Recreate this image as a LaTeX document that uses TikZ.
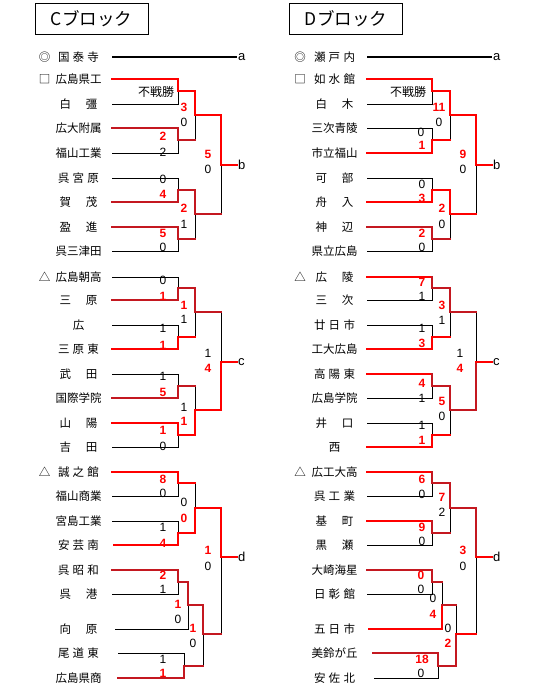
\documentclass[tikz,border=0pt]{standalone}
\usepackage{fontspec}
\setmainfont{Liberation Sans}
\newfontfamily\jp{Noto Sans CJK JP}
\definecolor{hired}{RGB}{255,0,0}
\definecolor{dkred}{RGB}{196,24,32}
\newcommand{\ntwo}[2]{\makebox[38pt]{#1\hfill#2}}
\newcommand{\nthree}[3]{\makebox[41pt]{#1\hfill#2\hfill#3}}
\tikzset{
  tname/.style={inner sep=0pt, font=\jp\fontsize{11.5}{12}\selectfont},
  seedmk/.style={inner sep=0pt, font=\jp\fontsize{11.5}{12}\selectfont},
  titlebox/.style={draw, line width=0.9pt, minimum width=113pt, minimum height=31pt, font=\jp\fontsize{17.5}{18}\selectfont},
  bye/.style={inner sep=0pt, font=\jp\fontsize{12}{12}\selectfont},
  lose/.style={black, line width=0.9pt},
  win/.style={hired, line width=2.2pt, line cap=rect},
  wind/.style={dkred, line width=2.2pt, line cap=rect},
  aline/.style={black, line width=2pt},
  lbl/.style={anchor=west, inner sep=1pt, font=\fontsize{13}{13}\selectfont},
  sc/.style={inner sep=0pt, font=\fontsize{12}{12}\selectfont},
  wsc/.style={inner sep=0pt, text=hired, font=\bfseries\fontsize{12}{12}\selectfont}
}
\begin{document}
\begin{tikzpicture}[x=1pt,y=-1pt]
\useasboundingbox (0,0) rectangle (540,699);

% block titles
\node[titlebox] (tC) at (91.5,18.5) {Cブロック};
\node[titlebox] (tD) at (346,18.5) {Dブロック};

% team names, C block
\foreach \y/\xs/\t [count=\i from 0] in {
  57/112/\nthree{国}{泰}{寺}, 79/112/広島県工, 104/112/\ntwo{白}{彊},
  128/112/広大附属, 153/112/福山工業, 178/112/\nthree{呉}{宮}{原},
  202/112/\ntwo{賀}{茂}, 227/112/\ntwo{盈}{進}, 251/112/呉三津田,
  277/112/広島朝高, 300/112/\ntwo{三}{原}, 325/112/広,
  349/112/\nthree{三}{原}{東}, 374/112/\ntwo{武}{田}, 398/112/国際学院,
  423/112/\ntwo{山}{陽}, 447/112/\ntwo{吉}{田}, 472/112/\nthree{誠}{之}{館},
  496/112/福山商業, 521/112/宮島工業, 545/114/\nthree{安}{芸}{南},
  570/112/\nthree{呉}{昭}{和}, 594/112/\ntwo{呉}{港}, 629/115/\ntwo{向}{原},
  653/118/\nthree{尾}{道}{東}, 678/118/広島県商}
{
  \node[tname] (L\i) at (78.5,\y) {\t};
  \coordinate (Ls\i) at (\xs,\y);
}

% team names, D block
\foreach \y/\xs/\t [count=\i from 0] in {
  57/367/\nthree{瀬}{戸}{内}, 79/367/\nthree{如}{水}{館}, 104/367/\ntwo{白}{木},
  128/367/三次青陵, 153/367/市立福山, 178/367/\ntwo{可}{部},
  202/367/\ntwo{舟}{入}, 227/367/\ntwo{神}{辺}, 251/367/県立広島,
  277/367/\ntwo{広}{陵}, 300/367/\ntwo{三}{次}, 325/367/\nthree{廿}{日}{市},
  349/367/工大広島, 374/367/\nthree{高}{陽}{東}, 398/367/広島学院,
  423/367/\ntwo{井}{口}, 447/367/西, 472/367/広工大高,
  496/367/\nthree{呉}{工}{業}, 521/367/\ntwo{基}{町}, 545/367/\ntwo{黒}{瀬},
  570/367/大崎海星, 594/367/\nthree{日}{彰}{館}, 629/369/\nthree{五}{日}{市},
  653/373/美鈴が丘, 678/374/\nthree{安}{佐}{北}}
{
  \node[tname] (R\i) at (334.5,\y) {\t};
  \coordinate (Rs\i) at (\xs,\y);
}

% seed marks
\node[seedmk] (mk1) at (44.5,57) {◎};
\node[seedmk] (mk2) at (44.5,79) {□};
\node[seedmk] (mk3) at (44.5,277) {△};
\node[seedmk] (mk4) at (44.5,472) {△};
\node[seedmk] (mk5) at (300,57) {◎};
\node[seedmk] (mk6) at (300,79) {□};
\node[seedmk] (mk7) at (300,277) {△};
\node[seedmk] (mk8) at (300,472) {△};

% match points
\foreach \n/\x/\y in {Lb1/178/91, Lb2/178/140, Lb3/178/190, Lb4/178/239,
  Lb5/195/115, Lb6/195/214, Lb7/221/165,
  Lc1/178/288, Lc2/178/337, Lc3/178/386, Lc4/178/435,
  Lc5/195/312, Lc6/195/410, Lc7/221/362,
  Ld1/178/483, Ld2/178/533, Ld3/178/582, Ld4/184/666,
  Ld5/195/508, Ld6/188/605, Ld7/203/634, Ld8/221/557,
  Rb1/432/91, Rb2/432/140, Rb3/432/190, Rb4/432/239,
  Rb5/450/115, Rb6/450/214, Rb7/476/165,
  Rc1/432/288, Rc2/432/337, Rc3/432/386, Rc4/432/435,
  Rc5/450/312, Rc6/450/410, Rc7/476/362,
  Rd1/432/483, Rd2/432/533, Rd3/432/582, Rd4/438/666,
  Rd5/450/508, Rd6/442/605, Rd7/456/634, Rd8/476/557}
  \coordinate (\n) at (\x,\y);

% exits
\node[lbl] (la) at (237,57) {a};
\node[lbl] (lb) at (237,165) {b};
\node[lbl] (lc) at (237,362) {c};
\node[lbl] (ld) at (237,557) {d};
\node[lbl] (ra) at (492,57) {a};
\node[lbl] (rb) at (492,165) {b};
\node[lbl] (rc) at (492,362) {c};
\node[lbl] (rd) at (492,557) {d};

\node[bye] (byeL) at (156,92) {不戦勝};
\node[bye] (byeR) at (408,92) {不戦勝};

% C block, b
\draw[aline] (Ls0) -- (la.west);
\draw[lose] (Ls2) -| (Lb1);
\draw[lose] (Ls4) -| (Lb2);
\draw[lose] (Ls5) -| (Lb3);
\draw[lose] (Ls8) -| (Lb4);
\draw[lose] (Lb2 -| Lb5) -- (Lb5);
\draw[lose] (Lb4 -| Lb6) -- (Lb6);
\draw[lose] (Lb6 -| Lb7) -- (Lb7);
\draw[win] (Ls1) -| (Lb1) -| (Lb5) -| (Lb7) -- (lb.west);
\draw[wind] (Ls3) -| (Lb2) -- (Lb2 -| Lb5);
\draw[wind] (Ls6) -| (Lb3) -| (Lb6) -- (Lb6 -| Lb7);
\draw[wind] (Ls7) -| (Lb4) -- (Lb4 -| Lb6);

% C block, c
\draw[lose] (Ls9) -| (Lc1);
\draw[lose] (Ls11) -| (Lc2);
\draw[lose] (Ls13) -| (Lc3);
\draw[lose] (Ls16) -| (Lc4);
\draw[lose] (Lc2 -| Lc5) -- (Lc5);
\draw[lose] (Lc3 -| Lc6) -- (Lc6);
\draw[lose] (Lc5 -| Lc7) -- (Lc7);
\draw[wind] (Ls10) -| (Lc1) -| (Lc5) -- (Lc5 -| Lc7);
\draw[win] (Ls12) -| (Lc2) -- (Lc2 -| Lc5);
\draw[wind] (Ls14) -| (Lc3) -- (Lc3 -| Lc6);
\draw[win] (Ls15) -| (Lc4) -| (Lc6) -| (Lc7) -- (lc.west);

% C block, d
\draw[lose] (Ls18) -| (Ld1);
\draw[lose] (Ls19) -| (Ld2);
\draw[lose] (Ls22) -| (Ld3);
\draw[lose] (Ls23) -| (Ld6);
\draw[lose] (Ls24) -| (Ld4);
\draw[lose] (Ld1 -| Ld5) -- (Ld5);
\draw[lose] (Ld4 -| Ld7) -- (Ld7);
\draw[lose] (Ld7 -| Ld8) -- (Ld8);
\draw[win] (Ls17) -| (Ld1) -- (Ld1 -| Ld5);
\draw[win] (Ls20) -| (Ld2) -| (Ld5) -| (Ld8) -- (ld.west);
\draw[wind] (Ls21) -| (Ld3) -| (Ld6) -| (Ld7) -- (Ld7 -| Ld8);
\draw[wind] (Ls25) -| (Ld4) -- (Ld4 -| Ld7);

% D block, b
\draw[aline] (Rs0) -- (ra.west);
\draw[lose] (Rs2) -| (Rb1);
\draw[lose] (Rs3) -| (Rb2);
\draw[lose] (Rs5) -| (Rb3);
\draw[lose] (Rs8) -| (Rb4);
\draw[lose] (Rb2 -| Rb5) -- (Rb5);
\draw[lose] (Rb4 -| Rb6) -- (Rb6);
\draw[lose] (Rb6 -| Rb7) -- (Rb7);
\draw[win] (Rs1) -| (Rb1) -| (Rb5) -| (Rb7) -- (rb.west);
\draw[win] (Rs4) -| (Rb2) -- (Rb2 -| Rb5);
\draw[win] (Rs6) -| (Rb3) -| (Rb6) -- (Rb6 -| Rb7);
\draw[wind] (Rs7) -| (Rb4) -- (Rb4 -| Rb6);

% D block, c
\draw[lose] (Rs10) -| (Rc1);
\draw[lose] (Rs11) -| (Rc2);
\draw[lose] (Rs14) -| (Rc3);
\draw[lose] (Rs15) -| (Rc4);
\draw[lose] (Rc2 -| Rc5) -- (Rc5);
\draw[lose] (Rc4 -| Rc6) -- (Rc6);
\draw[lose] (Rc5 -| Rc7) -- (Rc7);
\draw[win] (Rs9) -- (Rs9 -| Rc1);
\draw[wind] (Rs9 -| Rc1) -- (Rc1) -| (Rc5) -- (Rc5 -| Rc7);
\draw[win] (Rs12) -| (Rc2) -- (Rc2 -| Rc5);
\draw[win] (Rs13) -- (Rs13 -| Rc3);
\draw[wind] (Rs13 -| Rc3) -- (Rc3) -| (Rc6) -| (Rc7);
\draw[win] (Rc7) -- (rc.west);
\draw[win] (Rs16) -| (Rc4) -- (Rc4 -| Rc6);

% D block, d
\draw[lose] (Rs18) -| (Rd1);
\draw[lose] (Rs20) -| (Rd2);
\draw[lose] (Rs22) -| (Rd3);
\draw[lose] (Rs25) -| (Rd4);
\draw[lose] (Rd2 -| Rd5) -- (Rd5);
\draw[lose] (Rd3 -| Rd6) -- (Rd6);
\draw[lose] (Rd6 -| Rd7) -- (Rd7);
\draw[lose] (Rd7 -| Rd8) -- (Rd8);
\draw[win] (Rs17) -- (Rs17 -| Rd1);
\draw[wind] (Rs17 -| Rd1) -- (Rd1) -| (Rd5) -| (Rd8);
\draw[win] (Rd8) -- (rd.west);
\draw[win] (Rs19) -- (Rs19 -| Rd2);
\draw[wind] (Rs19 -| Rd2) -- (Rd2) -- (Rd2 -| Rd5);
\draw[wind] (Rs21) -| (Rd3) -- (Rd3 -| Rd6);
\draw[win] (Rs23) -| (Rd6);
\draw[wind] (Rd6) -- (Rd6 -| Rd7);
\draw[wind] (Rs24) -| (Rd4) -| (Rd7);
\draw[win] (Rd7) -- (Rd7 -| Rd8);

% scores, C block
\foreach \x/\y/\s [count=\i] in {163/136/2, 163/194/4, 163/233/5, 184/107/3,
  184/208/2, 208/154/5, 163/296/1, 163/345/1, 163/392/5, 163/430/1,
  184/305/1, 184/421/1, 208/368/4, 163/479/8, 163/543/4, 184/518/0,
  163/575/2, 178/604/1, 163/673/1, 193/628/1, 208/550/1}
  \node[wsc] (wL\i) at (\x,\y) {\s};
\foreach \x/\y/\s [count=\i] in {163/152/2, 163/179/0, 163/247/0, 184/122/0,
  184/224/1, 208/169/0, 163/280/0, 163/328/1, 163/376/1, 163/446/0,
  184/319/1, 184/407/1, 208/353/1, 163/493/0, 163/527/1, 184/502/0,
  163/589/1, 178/619/0, 163/659/1, 193/643/0, 208/566/0}
  \node[sc] (sL\i) at (\x,\y) {\s};

% scores, D block
\foreach \x/\y/\s [count=\i] in {422/145/1, 422/198/3, 422/233/2, 439/107/11,
  442/208/2, 463/154/9, 422/282/7, 422/343/3, 422/383/4, 422/440/1,
  442/305/3, 442/401/5, 460/368/4, 422/479/6, 422/527/9, 442/497/7,
  421/575/0, 433/614/4, 422/659/18, 448/643/2, 463/550/3}
  \node[wsc] (wR\i) at (\x,\y) {\s};
\foreach \x/\y/\s [count=\i] in {421/132/0, 422/184/0, 422/247/0, 439/122/0,
  442/224/0, 463/169/0, 422/296/1, 422/328/1, 422/398/1, 422/425/1,
  442/320/1, 442/416/0, 460/353/1, 422/494/0, 422/541/0, 442/512/2,
  421/589/0, 433/598/0, 421/673/0, 448/628/0, 463/566/0}
  \node[sc] (sR\i) at (\x,\y) {\s};

\end{tikzpicture}
\end{document}
